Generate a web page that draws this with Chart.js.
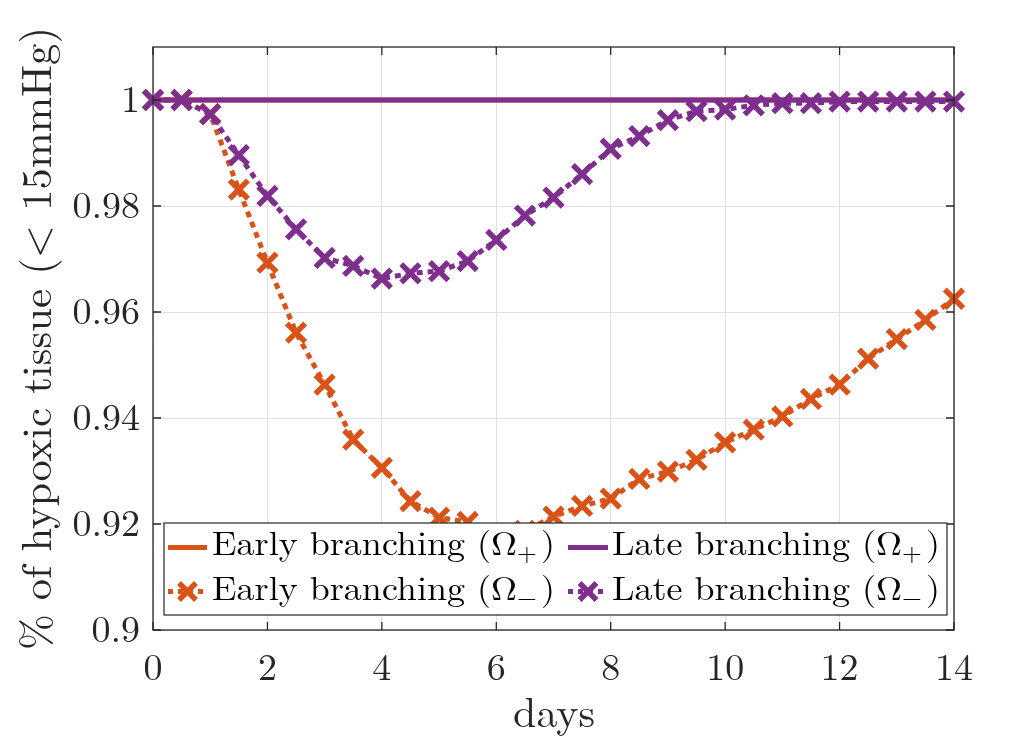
<!DOCTYPE html>
<html><head><meta charset="utf-8">
<style>html,body{margin:0;padding:0;background:#fff;overflow:hidden}#wrap{width:1035px;height:744px;position:relative}
#fp{position:absolute;left:-9999px;top:0;font-family:"Latin Modern Roman";font-size:20px}</style>
<script src="https://cdn.jsdelivr.net/npm/chart.js@4.4.1/dist/chart.umd.min.js"></script>
</head><body><div id="fp">Early branching 0.98 days Ω+−</div><div id="wrap"><canvas id="c" width="1035" height="744"></canvas></div>
<script>
// ---- data ----
const days = [0,0.5,1,1.5,2,2.5,3,3.5,4,4.5,5,5.5,6,6.5,7,7.5,8,8.5,9,9.5,10,10.5,11,11.5,12,12.5,13,13.5,14];
const earlyPlus = [1,1,1,1,1,1,1,1,1,1,1,1,1,1,1,1,1,1,1,1,1,1,1,1,1,1,1,1,1];
const latePlus  = [1,1,1,1,1,1,1,1,1,1,1,1,1,1,1,1,1,1,1,1,1,1,1,1,1,1,1,1,1];
const earlyMinus = [1,1,0.9974,0.9831,0.9693,0.9561,0.9463,0.9359,0.9306,0.9243,0.9212,0.9204,0.9180,0.9187,0.9214,0.9234,0.9248,0.9285,0.9299,0.9321,0.9354,0.9378,0.9403,0.9436,0.9463,0.9512,0.9549,0.9585,0.9625];
const lateMinus  = [1,1,0.9973,0.9896,0.9819,0.9756,0.9702,0.9687,0.9663,0.9673,0.9677,0.9696,0.9736,0.9782,0.9816,0.9860,0.9908,0.9932,0.9962,0.9979,0.9982,0.9990,0.9994,0.9994,0.9997,0.9997,0.9997,0.9997,0.9997];
const xTicks = [0,2,4,6,8,10,12,14];
const yTicks = [0.9,0.92,0.94,0.96,0.98,1];
const seriesNames = ['Early branching (Ω', 'Late branching (Ω', 'Early branching (Ω', 'Late branching (Ω'];
const seriesSubs = ['+', '+', '−', '−'];
const xTitle = 'days';
const yTitle = '% of hypoxic tissue (< 15mmHg)';

const ORANGE = '#D95319', PURPLE = '#7E2F8E', AXC = '#262626';
const FONT = '"Latin Modern Roman", "Liberation Serif", serif';
const DASH = [6,5];

function pts(arr){ return days.map((d,i)=>({x:d,y:arr[i]})); }

function drawParts(ctx, parts, x, y, target){
  let w=0;
  parts.forEach(p=>{ctx.font=p.size+'px '+FONT; p.w=ctx.measureText(p.t).width+(p.dx||0); w+=p.w;});
  const sx = target ? target/w : 1;
  ctx.save(); ctx.translate(x,y); ctx.scale(sx,1);
  let cx=0;
  parts.forEach(p=>{ctx.font=p.size+'px '+FONT; ctx.fillText(p.t,cx+(p.dx||0),p.dy||0); cx+=p.w;});
  ctx.restore();
}

function drawCross(ctx, x, y, r, color){
  const o = r*Math.SQRT1_2;
  ctx.save(); ctx.strokeStyle=color; ctx.lineWidth=5.5; ctx.setLineDash([]);
  ctx.beginPath(); ctx.moveTo(x-o,y-o); ctx.lineTo(x+o,y+o); ctx.moveTo(x-o,y+o); ctx.lineTo(x+o,y-o); ctx.stroke();
  ctx.restore();
}

const framePlugin = {
  id:'frame',
  afterDatasetsDraw(chart){
    const {ctx, chartArea:a, scales:{x, y}} = chart;
    ctx.save();
    ctx.strokeStyle=AXC; ctx.lineWidth=1.3; ctx.setLineDash([]);
    ctx.strokeRect(a.left, a.top, a.right-a.left, a.bottom-a.top);
    const TL = 8;
    ctx.beginPath();
    xTicks.forEach(v=>{const px=x.getPixelForValue(v);
      ctx.moveTo(px,a.bottom); ctx.lineTo(px,a.bottom-TL);
      ctx.moveTo(px,a.top); ctx.lineTo(px,a.top+TL);});
    yTicks.forEach(v=>{const py=y.getPixelForValue(v);
      ctx.moveTo(a.left,py); ctx.lineTo(a.left+TL,py);
      ctx.moveTo(a.right,py); ctx.lineTo(a.right-TL,py);});
    ctx.stroke();
    ctx.restore();
  },
  afterDraw(chart){
    const {ctx, chartArea:a} = chart;
    ctx.save();
    const L=164, T=523, R=947, B=615;
    ctx.fillStyle='#fff'; ctx.fillRect(L,T,R-L,B-T);
    ctx.strokeStyle=AXC; ctx.lineWidth=1.2; ctx.strokeRect(L,T,R-L,B-T);
    const cols=[{l0:168,l1:207,tx:212,tw:343},{l0:568,l1:608,tx:612,tw:328}];
    const rows=[{ly:547.5,by:555},{ly:591.5,by:600}];
    const colors=[ORANGE,PURPLE,ORANGE,PURPLE];
    for(let i=0;i<4;i++){
      const c=cols[i%2], r=rows[Math.floor(i/2)];
      ctx.strokeStyle=colors[i]; ctx.lineWidth=5;
      ctx.setLineDash(i<2?[]:[5,5]);
      ctx.beginPath(); ctx.moveTo(c.l0,r.ly); ctx.lineTo(c.l1,r.ly); ctx.stroke();
      ctx.setLineDash([]);
      if(i>=2) drawCross(ctx,(c.l0+c.l1)/2,r.ly,12,colors[i]);
      ctx.fillStyle='#000'; ctx.textAlign='left'; ctx.textBaseline='alphabetic';
      drawParts(ctx,[{t:seriesNames[i],size:34},{t:seriesSubs[i],size:24,dy:6},{t:')',size:34,dx:4}],c.tx,r.by,c.tw);
    }
    ctx.fillStyle=AXC; ctx.textAlign='left'; ctx.textBaseline='alphabetic';
    drawParts(ctx,[{t:xTitle,size:42}],513,727,82);
    ctx.save();
    ctx.translate(51,(a.top+a.bottom)/2);
    ctx.rotate(-Math.PI/2);
    drawParts(ctx,[{t:yTitle,size:42}],-311.5,0,623);
    ctx.restore();
    ctx.restore();
  }
};

function build(){
  const datasets = [
    {label:'Early+', data:pts(earlyPlus), borderColor:ORANGE, borderWidth:5, pointRadius:0, order:3},
    {label:'Late+', data:pts(latePlus), borderColor:PURPLE, borderWidth:5, pointRadius:0, order:2},
    {label:'Early-', data:pts(earlyMinus), borderColor:ORANGE, borderWidth:5, borderDash:DASH,
      pointStyle:'crossRot', pointRadius:13, pointBorderWidth:5.5, pointBorderColor:ORANGE, pointBackgroundColor:ORANGE, order:1},
    {label:'Late-', data:pts(lateMinus), borderColor:PURPLE, borderWidth:5, borderDash:DASH,
      pointStyle:'crossRot', pointRadius:13, pointBorderWidth:5.5, pointBorderColor:PURPLE, pointBackgroundColor:PURPLE, order:0}
  ];
  datasets.forEach(d=>{d.tension=0; d.clip=false; d.fill=false; d.pointHoverRadius=d.pointRadius;});
  Chart.defaults.font.family = FONT;
  new Chart(document.getElementById('c'), {
    type:'line',
    data:{datasets},
    plugins:[framePlugin],
    options:{
      responsive:false, animation:false, devicePixelRatio:1,
      layout:{padding:{left:0,top:47,right:81,bottom:0}},
      plugins:{legend:{display:false}, tooltip:{enabled:false}},
      events:[],
      scales:{
        x:{type:'linear', min:0, max:14,
          afterFit(s){s.height=114;},
          afterBuildTicks(s){s.ticks=xTicks.map(v=>({value:v}));},
          ticks:{color:AXC, font:{size:38, family:FONT}, padding:16, maxRotation:0,
            callback:v=>String(v)},
          grid:{color:'#e0e0e0', lineWidth:1, drawTicks:false},
          border:{display:false}
        },
        y:{type:'linear', min:0.9, max:1.01,
          afterFit(s){s.width=153;},
          afterBuildTicks(s){s.ticks=yTicks.map(v=>({value:v}));},
          ticks:{color:AXC, font:{size:38, family:FONT}, padding:13,
            callback:v=>String(Number(v.toFixed(2)))},
          grid:{color:'#e0e0e0', lineWidth:1, drawTicks:false},
          border:{display:false}
        }
      }
    }
  });
}
let built=false;
function go(){ if(!built){ built=true; build(); } }
if (document.fonts && document.fonts.load) {
  Promise.all([document.fonts.load('38px "Latin Modern Roman"'), document.fonts.load('38px "Liberation Serif"')]).then(go, go);
  setTimeout(go, 1500);
} else { go(); }
</script></body></html>
